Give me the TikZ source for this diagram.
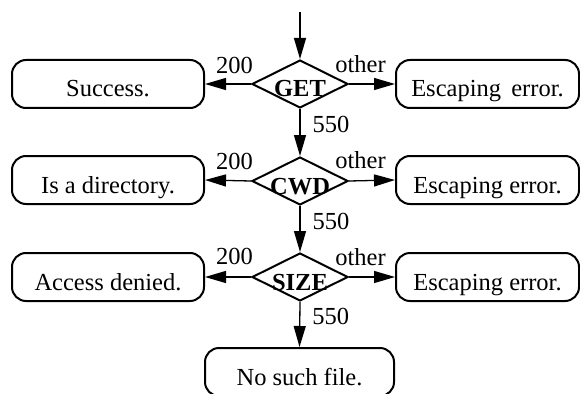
\documentclass[tikz,border=0pt]{standalone}
\usepackage{fontspec}
\setmainfont{Liberation Serif}
\usetikzlibrary{shapes.geometric,arrows.meta}
\begin{document}
\begin{tikzpicture}[x=1pt,y=-1pt,
  font=\fontsize{24.5}{28}\selectfont,
  outcome/.style={draw, line width=2pt, rounded corners=14pt,
    minimum height=48pt, inner sep=0pt, text height=26pt, text depth=0pt},
  test/.style={draw, diamond, line width=2pt, inner sep=0pt,
    minimum width=96pt, minimum height=48pt},
  testlabel/.style={font=\fontsize{24.5}{28}\selectfont\bfseries,
    inner sep=0pt, text height=26pt, text depth=0pt},
  conn/.style={line width=1.3pt, -{Triangle[length=21pt,width=12pt]}},
  lbl/.style={inner sep=0pt, anchor=base}]
\useasboundingbox (0,0) rectangle (580,393);

% command tests
\node[test, label={[testlabel]center:GET}]  (get)  at (300,84)  {};
\node[test, label={[testlabel]center:CWD}]  (cwd)  at (300,181) {};
\node[test, label={[testlabel]center:SIZE}] (size) at (300,277) {};

% outcomes
\node[outcome, minimum width=192pt] (succ) at (108,84)  {Success.};
\node[outcome, minimum width=192pt] (dir)  at (108,180) {Is a directory.};
\node[outcome, minimum width=192pt] (deny) at (108,277) {Access denied.};
\node[outcome, minimum width=183pt] (esc1) at (487.5,84)  {Escaping\hspace{0.42em}error.};
\node[outcome, minimum width=183pt] (esc2) at (487.5,180) {Escaping error.};
\node[outcome, minimum width=183pt] (esc3) at (487.5,277) {Escaping error.};
\node[outcome, minimum width=189pt] (nofile) at (299.5,372) {No such file.};

\coordinate (start) at (300,12);

% connectors
\draw[conn] (start) -- (get.north);
\draw[conn] (get.west) -- node[lbl, pos=0.36, yshift=10pt] {200} (succ.east);
\draw[conn] (get.east) -- node[lbl, pos=0.25, yshift=11pt] {other} (esc1.west);
\draw[conn] (get.south) -- node[lbl, anchor=base west, pos=0.5, xshift=12pt] {550} (cwd.north);

\draw[conn] (cwd.west) -- node[lbl, pos=0.36, yshift=11pt] {200} (dir.east);
\draw[conn] (cwd.east) -- node[lbl, pos=0.25, yshift=12pt] {other} (esc2.west);
\draw[conn] (cwd.south) -- node[lbl, anchor=base west, pos=0.5, xshift=12pt] {550} (size.north);

\draw[conn] (size.west) -- node[lbl, pos=0.36, yshift=13pt] {200} (deny.east);
\draw[conn] (size.east) -- node[lbl, pos=0.25, yshift=12pt] {other} (esc3.west);
\draw[conn] (size.south) -- node[lbl, anchor=base west, pos=0.5, xshift=12pt] {550} (nofile.north);
\end{tikzpicture}
\end{document}
